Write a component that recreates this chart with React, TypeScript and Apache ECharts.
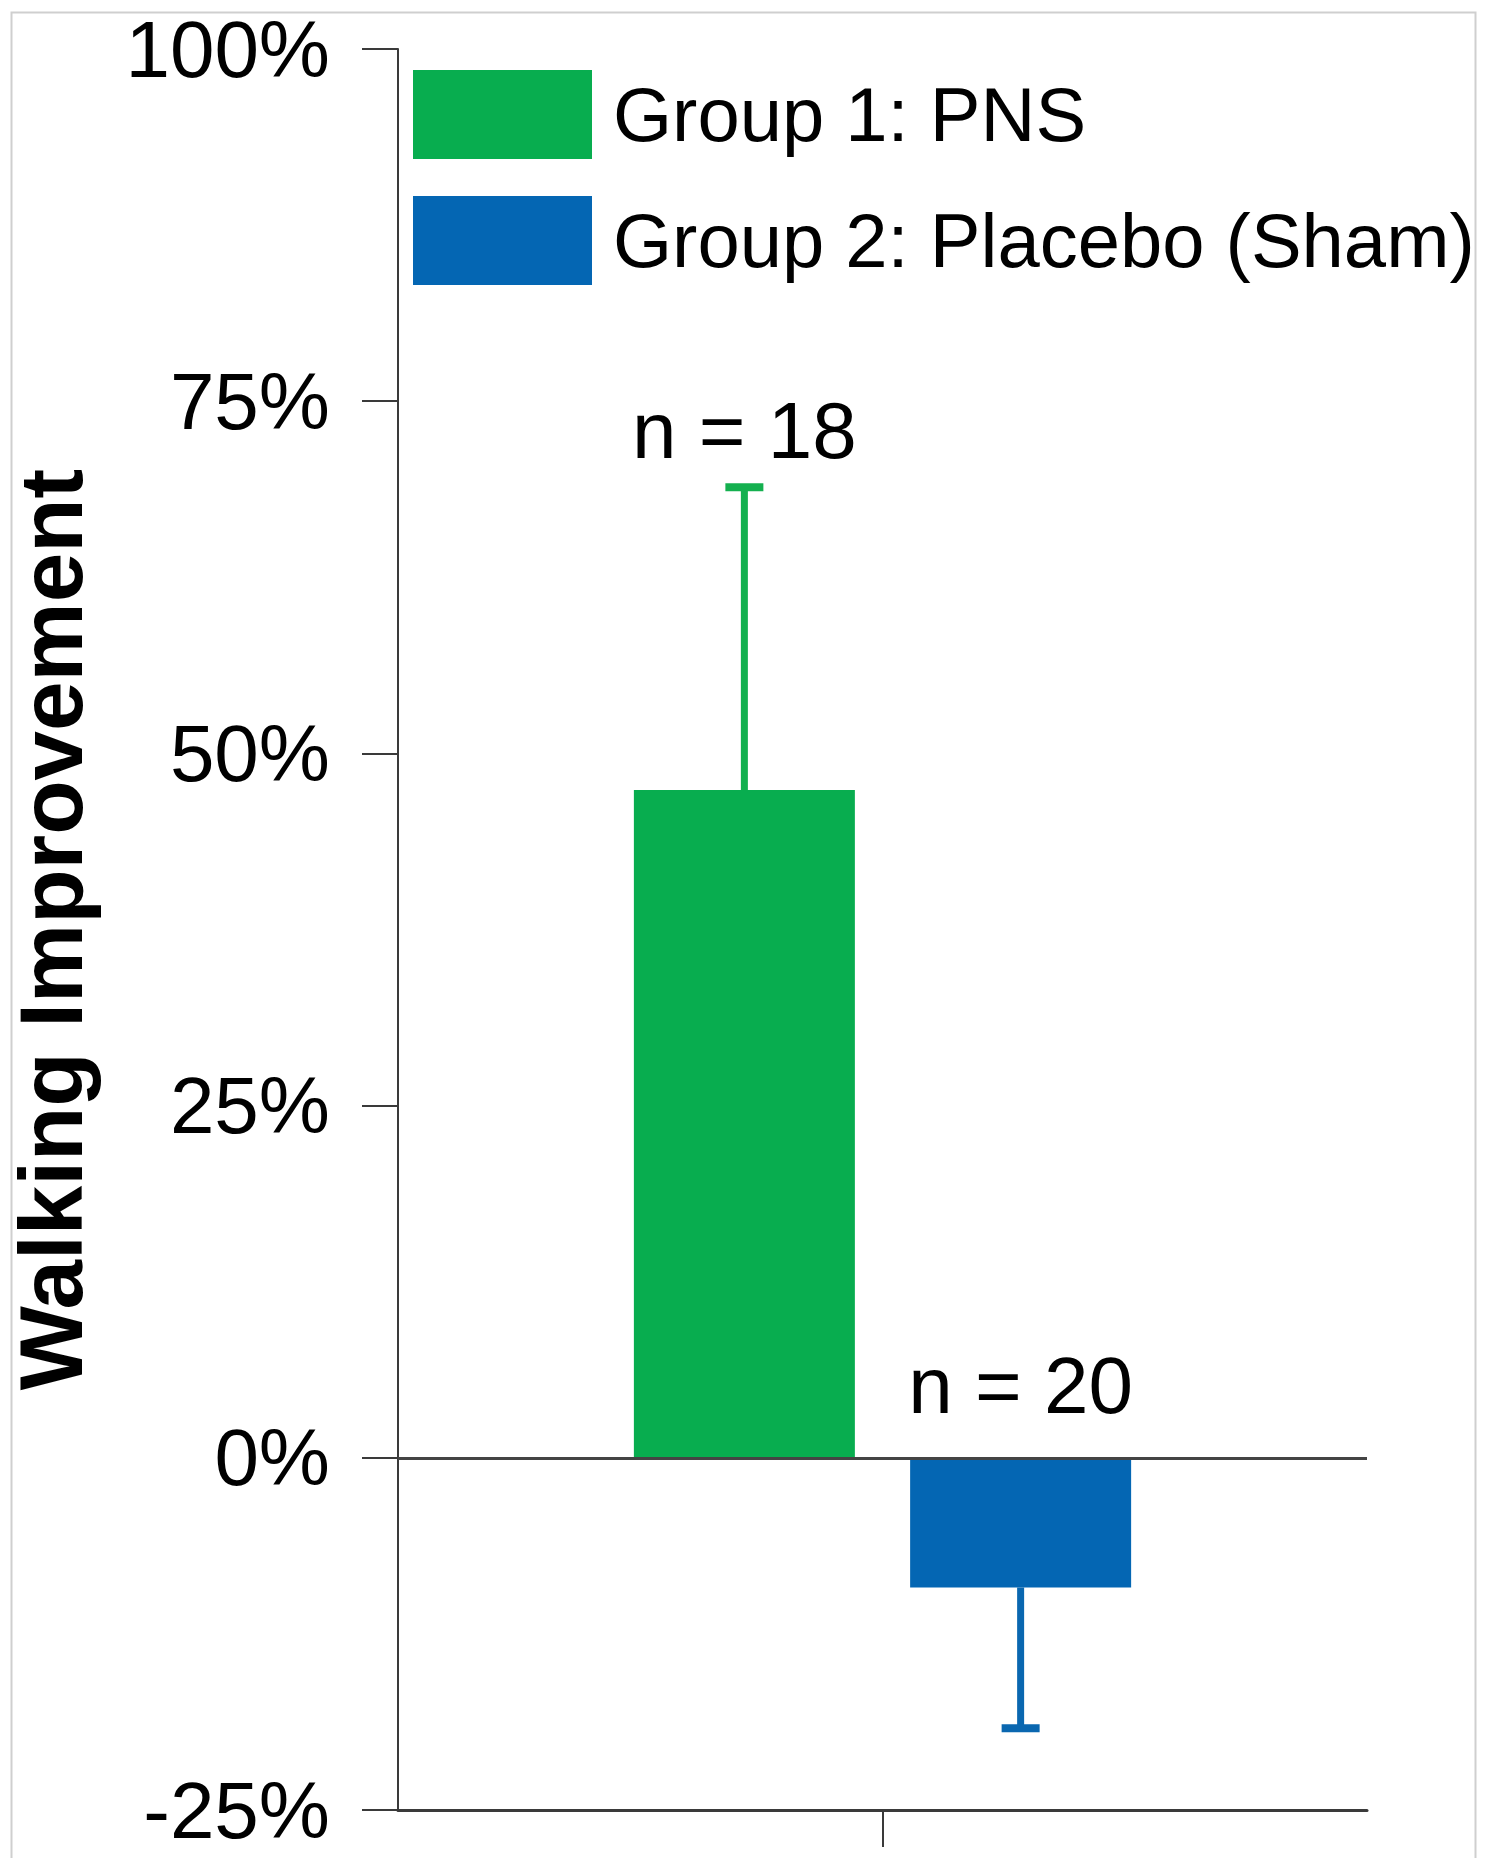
import React, { useEffect, useRef } from "react";
import * as echarts from "echarts";

const categories = [""];
const groupNames = ["Group 1: PNS", "Group 2: Placebo (Sham)"];
const meanValues = [47.4, -9.2];
const errorEnds = [68.9, -19.2];
const sampleSizes = ["n = 18", "n = 20"];
const yTicks = [-25, 0, 25, 50, 75, 100];

const barColors = ["#08AD4F", "#0466B3"];
const errColors = ["#14B04F", "#0A67B0"];
const FONT = "'Liberation Sans', Arial, Helvetica, sans-serif";
const BAR_W = 221;
const GAP = 0.25;
const LABEL_LIFT = [57, 72];

export default function App() {
  const ref = useRef<HTMLDivElement>(null);
  useEffect(() => {
    document.body.style.margin = "0";
    const chart = echarts.init(ref.current!, null, { renderer: "svg" });
    const errData = groupNames.map((_, i) => [0, meanValues[i], errorEnds[i], i]);
    chart.setOption({
      animation: false,
      backgroundColor: "#ffffff",
      graphic: [
        {
          type: "rect",
          left: 9,
          top: 10,
          shape: { width: 1464, height: 1870 },
          style: { fill: "none", stroke: "#cfcfcf", lineWidth: 2 },
          silent: true,
          z: -1,
        },
      ],
      legend: {
        orient: "vertical",
        left: 413,
        top: 70,
        padding: 0,
        itemWidth: 179,
        itemHeight: 89,
        itemGap: 37,
        icon: "rect",
        data: groupNames,
        textStyle: {
          fontSize: 76,
          color: "#000",
          fontFamily: FONT,
          padding: [0, 0, 0, 16],
        },
      },
      grid: {
        left: 398,
        right: 122,
        top: 49,
        bottom: 48,
        containLabel: false,
        outerBoundsMode: "none",
      },
      xAxis: {
        type: "category",
        data: categories,
        axisLine: { onZero: false, lineStyle: { color: "#3a3a3a", width: 3 } },
        axisTick: { show: true, alignWithLabel: true, length: 37, lineStyle: { color: "#3a3a3a", width: 2 } },
        axisLabel: { show: false },
      },
      yAxis: {
        type: "value",
        min: yTicks[0],
        max: yTicks[yTicks.length - 1],
        interval: 25,
        name: "Walking Improvement",
        nameLocation: "middle",
        nameGap: 303,
        nameRotate: 90,
        nameTextStyle: {
          fontSize: 89,
          fontWeight: "bold",
          color: "#000",
          fontFamily: FONT,
        },
        axisLine: { show: true, lineStyle: { color: "#3a3a3a", width: 2 } },
        axisTick: { show: true, length: 36, lineStyle: { color: "#3a3a3a", width: 2 } },
        splitLine: { show: false },
        axisLabel: {
          formatter: "{value}%",
          fontSize: 80,
          color: "#000",
          fontFamily: FONT,
          margin: 68,
        },
      },
      series: [
        {
          name: groupNames[0],
          type: "bar",
          data: [meanValues[0]],
          barWidth: BAR_W,
          barGap: GAP * 100 + "%",
          itemStyle: { color: barColors[0] },
          markLine: {
            silent: true,
            symbol: "none",
            label: { show: false },
            lineStyle: { color: "#444", width: 3, type: "solid" },
            data: [{ yAxis: 0 }],
          },
        },
        {
          name: groupNames[1],
          type: "bar",
          data: [meanValues[1]],
          barWidth: BAR_W,
          barGap: GAP * 100 + "%",
          itemStyle: { color: barColors[1] },
        },
        {
          type: "custom",
          data: errData,
          z: 5,
          renderItem: (params: any, api: any) => {
            const g = api.value(3);
            const mean = api.value(1);
            const end = api.value(2);
            const off = (g - 0.5) * BAR_W * (1 + GAP);
            const x = api.coord([api.value(0), 0])[0] + off;
            const yMean = api.coord([0, mean])[1];
            const yEnd = api.coord([0, end])[1];
            const yLabel = api.coord([0, Math.max(0, mean, end)])[1] - LABEL_LIFT[g];
            const c = errColors[g];
            return {
              type: "group",
              children: [
                {
                  type: "line",
                  shape: { x1: x, y1: yMean, x2: x, y2: yEnd },
                  style: { stroke: c, lineWidth: 7 },
                },
                {
                  type: "line",
                  shape: { x1: x - 19, y1: yEnd, x2: x + 19, y2: yEnd },
                  style: { stroke: c, lineWidth: 8 },
                },
                {
                  type: "text",
                  x: x,
                  y: yLabel,
                  style: {
                    text: sampleSizes[g],
                    fontSize: 80,
                    fontFamily: FONT,
                    fill: "#000",
                    align: "center",
                    verticalAlign: "middle",
                  },
                },
              ],
            };
          },
        },
      ],
    });
    return () => chart.dispose();
  }, []);
  return <div ref={ref} style={{ width: 1489, height: 1858 }} />;
}
